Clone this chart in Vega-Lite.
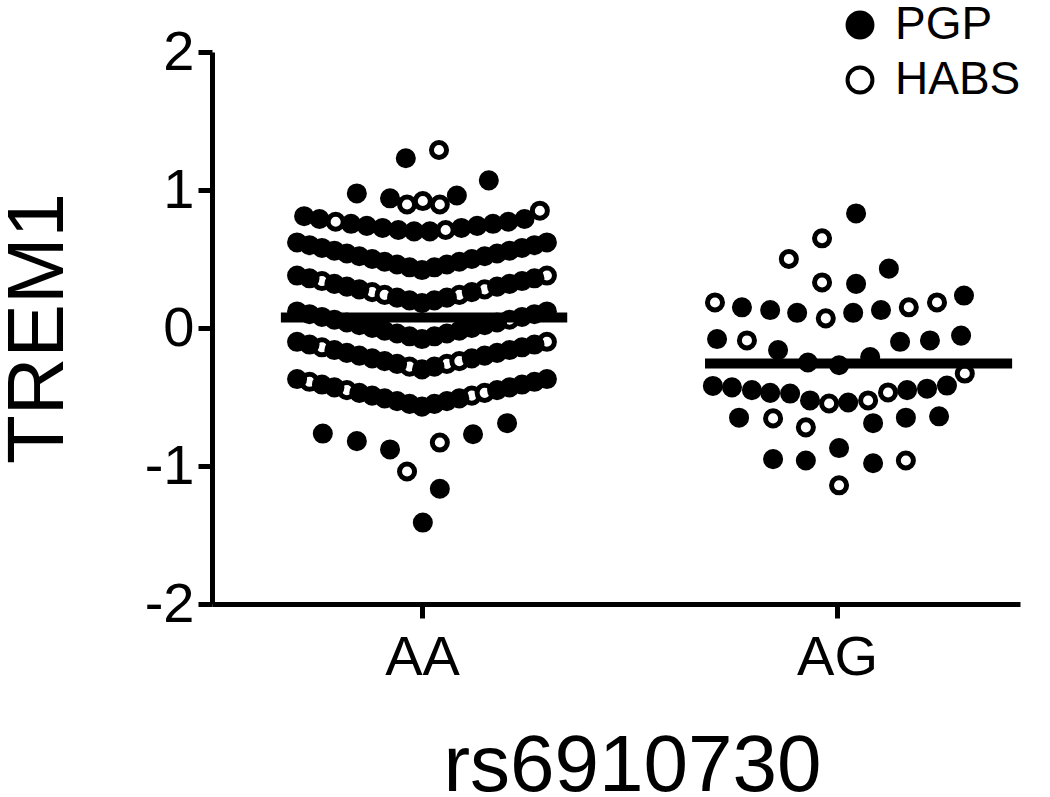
{
  "$schema": "https://vega.github.io/schema/vega-lite/v6.json",
  "width": 808,
  "height": 552,
  "autosize": {"type": "none"},
  "padding": {"left": 212, "top": 52, "right": 30, "bottom": 193},
  "background": "white",
  "config": {"font": "Liberation Sans", "view": {"stroke": null}},
  "layer": [
    {
      "data": {"values": [
        {"gt":"AA","pos":0.759,"trem1":0.34,"cohort":"HABS"},
        {"gt":"AA","pos":0.880,"trem1":0.26,"cohort":"HABS"},
        {"gt":"AA","pos":0.910,"trem1":0.24,"cohort":"HABS"},
        {"gt":"AA","pos":1.090,"trem1":0.24,"cohort":"HABS"},
        {"gt":"AA","pos":1.151,"trem1":0.28,"cohort":"HABS"},
        {"gt":"AA","pos":1.301,"trem1":0.38,"cohort":"HABS"},
        {"gt":"AA","pos":1.211,"trem1":0.06,"cohort":"HABS"},
        {"gt":"AA","pos":0.759,"trem1":-0.14,"cohort":"HABS"},
        {"gt":"AA","pos":0.970,"trem1":-0.28,"cohort":"HABS"},
        {"gt":"AA","pos":1.060,"trem1":-0.26,"cohort":"HABS"},
        {"gt":"AA","pos":1.090,"trem1":-0.24,"cohort":"HABS"},
        {"gt":"AA","pos":1.301,"trem1":-0.10,"cohort":"HABS"},
        {"gt":"AA","pos":0.729,"trem1":-0.39,"cohort":"HABS"},
        {"gt":"AA","pos":0.819,"trem1":-0.45,"cohort":"HABS"},
        {"gt":"AA","pos":1.120,"trem1":-0.49,"cohort":"HABS"},
        {"gt":"AA","pos":1.151,"trem1":-0.47,"cohort":"HABS"},

        {"gt":"AA","pos":0.699,"trem1":0.62,"cohort":"PGP"},
        {"gt":"AA","pos":0.729,"trem1":0.60,"cohort":"PGP"},
        {"gt":"AA","pos":0.759,"trem1":0.58,"cohort":"PGP"},
        {"gt":"AA","pos":0.789,"trem1":0.56,"cohort":"PGP"},
        {"gt":"AA","pos":0.819,"trem1":0.54,"cohort":"PGP"},
        {"gt":"AA","pos":0.849,"trem1":0.52,"cohort":"PGP"},
        {"gt":"AA","pos":0.880,"trem1":0.50,"cohort":"PGP"},
        {"gt":"AA","pos":0.910,"trem1":0.48,"cohort":"PGP"},
        {"gt":"AA","pos":0.940,"trem1":0.46,"cohort":"PGP"},
        {"gt":"AA","pos":0.970,"trem1":0.44,"cohort":"PGP"},
        {"gt":"AA","pos":1.000,"trem1":0.42,"cohort":"PGP"},
        {"gt":"AA","pos":1.030,"trem1":0.44,"cohort":"PGP"},
        {"gt":"AA","pos":1.060,"trem1":0.46,"cohort":"PGP"},
        {"gt":"AA","pos":1.090,"trem1":0.48,"cohort":"PGP"},
        {"gt":"AA","pos":1.120,"trem1":0.50,"cohort":"PGP"},
        {"gt":"AA","pos":1.151,"trem1":0.52,"cohort":"PGP"},
        {"gt":"AA","pos":1.181,"trem1":0.54,"cohort":"PGP"},
        {"gt":"AA","pos":1.211,"trem1":0.56,"cohort":"PGP"},
        {"gt":"AA","pos":1.241,"trem1":0.58,"cohort":"PGP"},
        {"gt":"AA","pos":1.271,"trem1":0.60,"cohort":"PGP"},
        {"gt":"AA","pos":1.301,"trem1":0.62,"cohort":"PGP"},

        {"gt":"AA","pos":0.699,"trem1":0.38,"cohort":"PGP"},
        {"gt":"AA","pos":0.729,"trem1":0.36,"cohort":"PGP"},
        {"gt":"AA","pos":0.789,"trem1":0.32,"cohort":"PGP"},
        {"gt":"AA","pos":0.819,"trem1":0.30,"cohort":"PGP"},
        {"gt":"AA","pos":0.849,"trem1":0.28,"cohort":"PGP"},
        {"gt":"AA","pos":0.940,"trem1":0.22,"cohort":"PGP"},
        {"gt":"AA","pos":0.970,"trem1":0.20,"cohort":"PGP"},
        {"gt":"AA","pos":1.000,"trem1":0.18,"cohort":"PGP"},
        {"gt":"AA","pos":1.030,"trem1":0.20,"cohort":"PGP"},
        {"gt":"AA","pos":1.060,"trem1":0.22,"cohort":"PGP"},
        {"gt":"AA","pos":1.120,"trem1":0.26,"cohort":"PGP"},
        {"gt":"AA","pos":1.181,"trem1":0.30,"cohort":"PGP"},
        {"gt":"AA","pos":1.211,"trem1":0.32,"cohort":"PGP"},
        {"gt":"AA","pos":1.241,"trem1":0.34,"cohort":"PGP"},
        {"gt":"AA","pos":1.271,"trem1":0.36,"cohort":"PGP"},

        {"gt":"AA","pos":0.699,"trem1":0.12,"cohort":"PGP"},
        {"gt":"AA","pos":0.729,"trem1":0.10,"cohort":"PGP"},
        {"gt":"AA","pos":0.759,"trem1":0.08,"cohort":"PGP"},
        {"gt":"AA","pos":0.789,"trem1":0.06,"cohort":"PGP"},
        {"gt":"AA","pos":0.819,"trem1":0.04,"cohort":"PGP"},
        {"gt":"AA","pos":0.849,"trem1":0.02,"cohort":"PGP"},
        {"gt":"AA","pos":0.880,"trem1":0.00,"cohort":"PGP"},
        {"gt":"AA","pos":0.910,"trem1":-0.02,"cohort":"PGP"},
        {"gt":"AA","pos":0.940,"trem1":-0.04,"cohort":"PGP"},
        {"gt":"AA","pos":0.970,"trem1":-0.06,"cohort":"PGP"},
        {"gt":"AA","pos":1.000,"trem1":-0.08,"cohort":"PGP"},
        {"gt":"AA","pos":1.030,"trem1":-0.06,"cohort":"PGP"},
        {"gt":"AA","pos":1.060,"trem1":-0.04,"cohort":"PGP"},
        {"gt":"AA","pos":1.090,"trem1":-0.02,"cohort":"PGP"},
        {"gt":"AA","pos":1.120,"trem1":0.00,"cohort":"PGP"},
        {"gt":"AA","pos":1.151,"trem1":0.02,"cohort":"PGP"},
        {"gt":"AA","pos":1.181,"trem1":0.04,"cohort":"PGP"},
        {"gt":"AA","pos":1.241,"trem1":0.08,"cohort":"PGP"},
        {"gt":"AA","pos":1.271,"trem1":0.10,"cohort":"PGP"},
        {"gt":"AA","pos":1.301,"trem1":0.12,"cohort":"PGP"},

        {"gt":"AA","pos":0.699,"trem1":-0.10,"cohort":"PGP"},
        {"gt":"AA","pos":0.729,"trem1":-0.12,"cohort":"PGP"},
        {"gt":"AA","pos":0.789,"trem1":-0.16,"cohort":"PGP"},
        {"gt":"AA","pos":0.819,"trem1":-0.18,"cohort":"PGP"},
        {"gt":"AA","pos":0.849,"trem1":-0.20,"cohort":"PGP"},
        {"gt":"AA","pos":0.880,"trem1":-0.22,"cohort":"PGP"},
        {"gt":"AA","pos":0.910,"trem1":-0.24,"cohort":"PGP"},
        {"gt":"AA","pos":0.940,"trem1":-0.26,"cohort":"PGP"},
        {"gt":"AA","pos":1.000,"trem1":-0.30,"cohort":"PGP"},
        {"gt":"AA","pos":1.030,"trem1":-0.28,"cohort":"PGP"},
        {"gt":"AA","pos":1.120,"trem1":-0.22,"cohort":"PGP"},
        {"gt":"AA","pos":1.151,"trem1":-0.20,"cohort":"PGP"},
        {"gt":"AA","pos":1.181,"trem1":-0.18,"cohort":"PGP"},
        {"gt":"AA","pos":1.211,"trem1":-0.16,"cohort":"PGP"},
        {"gt":"AA","pos":1.241,"trem1":-0.14,"cohort":"PGP"},
        {"gt":"AA","pos":1.271,"trem1":-0.12,"cohort":"PGP"},

        {"gt":"AA","pos":0.699,"trem1":-0.37,"cohort":"PGP"},
        {"gt":"AA","pos":0.759,"trem1":-0.41,"cohort":"PGP"},
        {"gt":"AA","pos":0.789,"trem1":-0.43,"cohort":"PGP"},
        {"gt":"AA","pos":0.849,"trem1":-0.47,"cohort":"PGP"},
        {"gt":"AA","pos":0.880,"trem1":-0.49,"cohort":"PGP"},
        {"gt":"AA","pos":0.910,"trem1":-0.51,"cohort":"PGP"},
        {"gt":"AA","pos":0.940,"trem1":-0.53,"cohort":"PGP"},
        {"gt":"AA","pos":0.970,"trem1":-0.55,"cohort":"PGP"},
        {"gt":"AA","pos":1.000,"trem1":-0.57,"cohort":"PGP"},
        {"gt":"AA","pos":1.030,"trem1":-0.55,"cohort":"PGP"},
        {"gt":"AA","pos":1.060,"trem1":-0.53,"cohort":"PGP"},
        {"gt":"AA","pos":1.090,"trem1":-0.51,"cohort":"PGP"},
        {"gt":"AA","pos":1.181,"trem1":-0.45,"cohort":"PGP"},
        {"gt":"AA","pos":1.211,"trem1":-0.43,"cohort":"PGP"},
        {"gt":"AA","pos":1.241,"trem1":-0.41,"cohort":"PGP"},
        {"gt":"AA","pos":1.271,"trem1":-0.39,"cohort":"PGP"},
        {"gt":"AA","pos":1.301,"trem1":-0.37,"cohort":"PGP"},

        {"gt":"AA","pos":0.716,"trem1":0.81,"cohort":"PGP"},
        {"gt":"AA","pos":0.753,"trem1":0.79,"cohort":"PGP"},
        {"gt":"AA","pos":0.829,"trem1":0.755,"cohort":"PGP"},
        {"gt":"AA","pos":0.867,"trem1":0.74,"cohort":"PGP"},
        {"gt":"AA","pos":0.905,"trem1":0.725,"cohort":"PGP"},
        {"gt":"AA","pos":0.943,"trem1":0.71,"cohort":"PGP"},
        {"gt":"AA","pos":0.981,"trem1":0.70,"cohort":"PGP"},
        {"gt":"AA","pos":1.019,"trem1":0.70,"cohort":"PGP"},
        {"gt":"AA","pos":1.095,"trem1":0.725,"cohort":"PGP"},
        {"gt":"AA","pos":1.133,"trem1":0.74,"cohort":"PGP"},
        {"gt":"AA","pos":1.171,"trem1":0.755,"cohort":"PGP"},
        {"gt":"AA","pos":1.208,"trem1":0.77,"cohort":"PGP"},
        {"gt":"AA","pos":1.247,"trem1":0.79,"cohort":"PGP"},
        {"gt":"AA","pos":0.792,"trem1":0.77,"cohort":"HABS"},
        {"gt":"AA","pos":1.057,"trem1":0.71,"cohort":"HABS"},
        {"gt":"AA","pos":1.284,"trem1":0.85,"cohort":"HABS"},

        {"gt":"AA","pos":0.961,"trem1":1.23,"cohort":"PGP"},
        {"gt":"AA","pos":0.843,"trem1":0.975,"cohort":"PGP"},
        {"gt":"AA","pos":1.161,"trem1":1.07,"cohort":"PGP"},
        {"gt":"AA","pos":0.923,"trem1":0.94,"cohort":"PGP"},
        {"gt":"AA","pos":1.084,"trem1":0.96,"cohort":"PGP"},
        {"gt":"AA","pos":0.761,"trem1":-0.765,"cohort":"PGP"},
        {"gt":"AA","pos":0.843,"trem1":-0.82,"cohort":"PGP"},
        {"gt":"AA","pos":0.923,"trem1":-0.88,"cohort":"PGP"},
        {"gt":"AA","pos":1.123,"trem1":-0.77,"cohort":"PGP"},
        {"gt":"AA","pos":1.205,"trem1":-0.69,"cohort":"PGP"},
        {"gt":"AA","pos":1.043,"trem1":-1.165,"cohort":"PGP"},
        {"gt":"AA","pos":1.002,"trem1":-1.41,"cohort":"PGP"},
        {"gt":"AA","pos":1.041,"trem1":1.29,"cohort":"HABS"},
        {"gt":"AA","pos":0.964,"trem1":0.895,"cohort":"HABS"},
        {"gt":"AA","pos":1.002,"trem1":0.92,"cohort":"HABS"},
        {"gt":"AA","pos":1.043,"trem1":0.895,"cohort":"HABS"},
        {"gt":"AA","pos":1.043,"trem1":-0.83,"cohort":"HABS"},
        {"gt":"AA","pos":0.964,"trem1":-1.04,"cohort":"HABS"},

        {"gt":"AG","pos":2.046,"trem1":0.83,"cohort":"PGP"},
        {"gt":"AG","pos":1.964,"trem1":0.65,"cohort":"HABS"},
        {"gt":"AG","pos":1.884,"trem1":0.50,"cohort":"HABS"},
        {"gt":"AG","pos":2.125,"trem1":0.43,"cohort":"PGP"},
        {"gt":"AG","pos":1.964,"trem1":0.33,"cohort":"HABS"},
        {"gt":"AG","pos":2.046,"trem1":0.32,"cohort":"PGP"},
        {"gt":"AG","pos":1.706,"trem1":0.185,"cohort":"HABS"},
        {"gt":"AG","pos":1.771,"trem1":0.15,"cohort":"PGP"},
        {"gt":"AG","pos":1.839,"trem1":0.13,"cohort":"PGP"},
        {"gt":"AG","pos":1.904,"trem1":0.11,"cohort":"PGP"},
        {"gt":"AG","pos":1.973,"trem1":0.07,"cohort":"HABS"},
        {"gt":"AG","pos":2.039,"trem1":0.11,"cohort":"PGP"},
        {"gt":"AG","pos":2.106,"trem1":0.13,"cohort":"PGP"},
        {"gt":"AG","pos":2.173,"trem1":0.15,"cohort":"HABS"},
        {"gt":"AG","pos":2.241,"trem1":0.185,"cohort":"HABS"},
        {"gt":"AG","pos":2.306,"trem1":0.235,"cohort":"PGP"},
        {"gt":"AG","pos":1.711,"trem1":-0.08,"cohort":"PGP"},
        {"gt":"AG","pos":1.783,"trem1":-0.09,"cohort":"HABS"},
        {"gt":"AG","pos":1.858,"trem1":-0.16,"cohort":"PGP"},
        {"gt":"AG","pos":1.930,"trem1":-0.25,"cohort":"PGP"},
        {"gt":"AG","pos":2.005,"trem1":-0.27,"cohort":"PGP"},
        {"gt":"AG","pos":2.080,"trem1":-0.21,"cohort":"PGP"},
        {"gt":"AG","pos":2.152,"trem1":-0.10,"cohort":"PGP"},
        {"gt":"AG","pos":2.224,"trem1":-0.09,"cohort":"PGP"},
        {"gt":"AG","pos":2.299,"trem1":-0.055,"cohort":"PGP"},
        {"gt":"AG","pos":2.308,"trem1":-0.33,"cohort":"HABS"},
        {"gt":"AG","pos":1.701,"trem1":-0.42,"cohort":"PGP"},
        {"gt":"AG","pos":1.747,"trem1":-0.43,"cohort":"PGP"},
        {"gt":"AG","pos":1.795,"trem1":-0.45,"cohort":"PGP"},
        {"gt":"AG","pos":1.839,"trem1":-0.47,"cohort":"PGP"},
        {"gt":"AG","pos":1.887,"trem1":-0.475,"cohort":"PGP"},
        {"gt":"AG","pos":1.935,"trem1":-0.525,"cohort":"PGP"},
        {"gt":"AG","pos":1.981,"trem1":-0.547,"cohort":"HABS"},
        {"gt":"AG","pos":2.027,"trem1":-0.54,"cohort":"PGP"},
        {"gt":"AG","pos":2.075,"trem1":-0.525,"cohort":"HABS"},
        {"gt":"AG","pos":2.123,"trem1":-0.467,"cohort":"HABS"},
        {"gt":"AG","pos":2.169,"trem1":-0.45,"cohort":"PGP"},
        {"gt":"AG","pos":2.217,"trem1":-0.44,"cohort":"PGP"},
        {"gt":"AG","pos":2.265,"trem1":-0.417,"cohort":"PGP"},
        {"gt":"AG","pos":1.764,"trem1":-0.65,"cohort":"PGP"},
        {"gt":"AG","pos":1.846,"trem1":-0.655,"cohort":"HABS"},
        {"gt":"AG","pos":1.925,"trem1":-0.72,"cohort":"HABS"},
        {"gt":"AG","pos":2.087,"trem1":-0.69,"cohort":"PGP"},
        {"gt":"AG","pos":2.166,"trem1":-0.65,"cohort":"PGP"},
        {"gt":"AG","pos":2.246,"trem1":-0.64,"cohort":"PGP"},
        {"gt":"AG","pos":2.005,"trem1":-0.87,"cohort":"PGP"},
        {"gt":"AG","pos":1.846,"trem1":-0.95,"cohort":"PGP"},
        {"gt":"AG","pos":1.925,"trem1":-0.96,"cohort":"PGP"},
        {"gt":"AG","pos":2.087,"trem1":-0.98,"cohort":"PGP"},
        {"gt":"AG","pos":2.166,"trem1":-0.96,"cohort":"HABS"},
        {"gt":"AG","pos":2.005,"trem1":-1.14,"cohort":"HABS"}
      ]},
      "mark": {"type": "circle", "size": 227, "stroke": "black", "strokeWidth": 5, "opacity": 1},
      "encoding": {
        "x": {
          "field": "pos", "type": "quantitative",
          "scale": {"domain": [0.494, 2.441], "nice": false, "zero": false},
          "axis": {
            "values": [1, 2],
            "labelExpr": "datum.value == 1 ? 'AA' : 'AG'",
            "title": "rs6910730",
            "titleFontSize": 80, "titleFontWeight": "normal", "titleColor": "black",
            "titleX": 420, "titleY": 186, "titleAlign": "center", "titleBaseline": "alphabetic",
            "labelFontSize": 56, "labelColor": "black", "labelPadding": 12,
            "tickSize": 14, "tickWidth": 5, "tickColor": "black",
            "domainWidth": 5, "domainColor": "black", "grid": false, "labelFlush": false
          }
        },
        "y": {
          "field": "trem1", "type": "quantitative",
          "scale": {"domain": [-2, 2], "nice": false, "zero": false},
          "axis": {
            "values": [-2, -1, 0, 1, 2],
            "labelExpr": "'' + datum.value",
            "title": "TREM1",
            "titleFontSize": 80, "titleFontWeight": "normal", "titleColor": "black",
            "titleX": -150, "titleY": 276, "titleAlign": "center", "titleBaseline": "alphabetic", "titleAngle": 270,
            "labelFontSize": 56, "labelColor": "black", "labelPadding": 4,
            "tickSize": 14, "tickWidth": 5, "tickColor": "black",
            "domainWidth": 5, "domainColor": "black", "grid": false, "labelFlush": false
          }
        },
        "fill": {
          "field": "cohort", "type": "nominal",
          "scale": {"domain": ["PGP", "HABS"], "range": ["black", "white"]},
          "legend": {
            "title": null, "orient": "none", "legendX": 625, "legendY": -50,
            "padding": 0, "symbolType": "circle", "symbolSize": 620,
            "symbolStrokeColor": "black", "symbolStrokeWidth": 4, "symbolOpacity": 1,
            "labelFontSize": 46, "labelColor": "black", "labelOffset": 12, "rowPadding": 9
          }
        }
      }
    },
    {
      "data": {"values": [
        {"gt": "AA", "x1": 0.66, "x2": 1.35, "mean": 0.076},
        {"gt": "AG", "x1": 1.682, "x2": 2.422, "mean": -0.257}
      ]},
      "mark": {"type": "rule", "strokeWidth": 10, "color": "black"},
      "encoding": {
        "x": {"field": "x1", "type": "quantitative"},
        "x2": {"field": "x2"},
        "y": {"field": "mean", "type": "quantitative"}
      }
    }
  ]
}
